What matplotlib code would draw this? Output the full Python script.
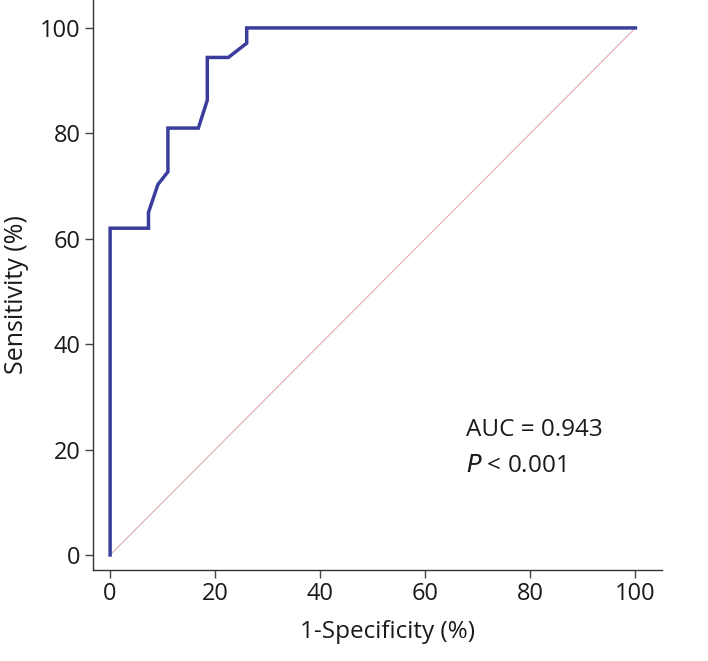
import matplotlib.pyplot as plt

# ROC curve points (1-specificity %, sensitivity %)
fpr = [0, 0, 7.3, 7.3, 9.1, 11.0, 11.0, 16.8, 18.5, 18.5, 22.5, 26.0, 26.0, 100]
tpr = [0, 62.0, 62.0, 65.0, 70.3, 72.7, 81.0, 81.0, 86.3, 94.4, 94.4, 97.1, 100, 100]
diag = [0, 100]
xticks = [0, 20, 40, 60, 80, 100]
yticks = [0, 20, 40, 60, 80, 100]

plt.rcParams['font.family'] = ['Open Sans', 'DejaVu Sans']

fig = plt.figure(figsize=(7.08, 6.61), dpi=100)
ax = fig.add_axes([0.1318, 0.1377, 0.8028, 0.8623])

ax.plot(diag, diag, color='#e3a9b0', linewidth=0.8, zorder=1)
ax.plot(fpr, tpr, color='#3b3d9c', linewidth=2.5, solid_joinstyle='miter', zorder=2)

ax.set_xlim(-3.2, 105)
ax.set_ylim(-2.85, 105.3)
ax.set_xticks(xticks)
ax.set_yticks(yticks)
ax.spines['top'].set_visible(False)
ax.spines['right'].set_visible(False)
for s in ['left', 'bottom']:
    ax.spines[s].set_color('#333333')
    ax.spines[s].set_linewidth(1.0)
ax.tick_params(direction='out', length=6, width=1, color='#444444',
               labelsize=17, labelcolor='#1a1a1a', pad=3)

ax.set_xlabel('1-Specificity (%)', fontsize=17.5, color='#1a1a1a')
ax.set_ylabel('Sensitivity (%)', fontsize=18, color='#1a1a1a')
ax.xaxis.set_label_coords(0.517, -0.088)
ax.yaxis.set_label_coords(-0.113, 0.484)

ax.text(67.8, 22.6, 'AUC = 0.943', fontsize=17.5, color='#1a1a1a')
ax.text(67.8, 15.8, r'$\it{P}$ < 0.001', fontsize=17.5, color='#1a1a1a')

fig.savefig('out.png', dpi=100)
